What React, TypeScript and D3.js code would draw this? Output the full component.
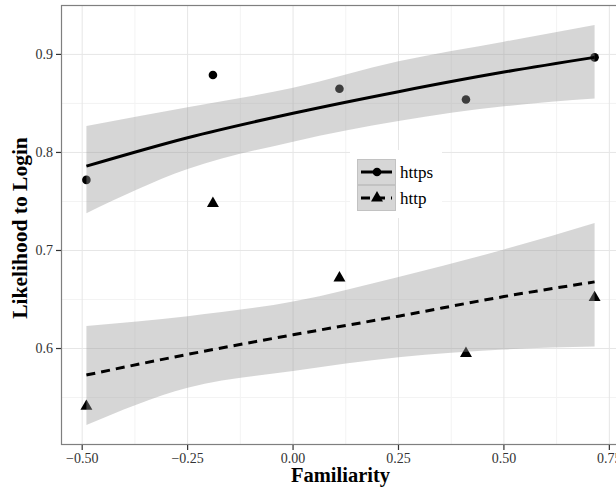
import React, { useRef, useEffect } from 'react';
import * as d3 from 'd3';

// observed points
const familiarity = [-0.49, -0.19, 0.11, 0.41, 0.715];
const httpsObs = [0.772, 0.879, 0.865, 0.854, 0.897];
const httpObs = [0.541, 0.748, 0.672, 0.595, 0.652];

// fitted curve + confidence band
const fitX = [-0.49, -0.25, 0, 0.25, 0.5, 0.715];
const httpsFit = [0.786, 0.815, 0.840, 0.862, 0.882, 0.897];
const httpsLo = [0.738, 0.783, 0.811, 0.832, 0.847, 0.855];
const httpsHi = [0.827, 0.846, 0.866, 0.893, 0.913, 0.930];
const httpFit = [0.573, 0.594, 0.614, 0.633, 0.653, 0.668];
const httpLo = [0.522, 0.560, 0.577, 0.591, 0.599, 0.602];
const httpHi = [0.623, 0.633, 0.648, 0.673, 0.701, 0.728];

const xTicks = [-0.5, -0.25, 0, 0.25, 0.5, 0.75];
const xTickLabels = ['−0.50', '−0.25', '0.00', '0.25', '0.50', '0.75'];
const yTicks = [0.6, 0.7, 0.8, 0.9];
const seriesNames = ['https', 'http'];

const width = 616;
const height = 491;
const FONT = '"Liberation Serif", "Times New Roman", serif';

export default function App() {
  const svgRef = useRef(null);

  useEffect(() => {
    const svg = d3.select(svgRef.current);
    svg.selectAll('*').remove();

    const margin = { top: 5, right: -4, bottom: 46, left: 61 };
    const x0 = margin.left, x1 = width - margin.right;
    const y0 = margin.top, y1 = height - margin.bottom;

    // ggplot-ish 5% expansion
    const xExt = d3.extent(familiarity) as [number, number];
    const xPad = (xExt[1] - xExt[0]) * 0.05;
    const x = d3.scaleLinear([xExt[0] - xPad, xExt[1] + xPad], [x0, x1]);
    const yMin = d3.min(httpLo) as number, yMax = d3.max(httpsHi) as number;
    const yPad = (yMax - yMin) * 0.05;
    const y = d3.scaleLinear([yMin - yPad, yMax + yPad], [y1, y0]);

    svg.append('defs').append('clipPath').attr('id', 'panel')
      .append('rect').attr('x', x0).attr('y', y0).attr('width', x1 - x0).attr('height', y1 - y0);

    svg.append('rect').attr('width', width).attr('height', height).attr('fill', 'white');

    const panel = svg.append('g').attr('clip-path', 'url(#panel)');

    // grid
    const xMinor = d3.pairs(xTicks, (a, b) => (a + b) / 2);
    const yMinor = [yTicks[0] - 0.05, ...d3.pairs(yTicks, (a, b) => (a + b) / 2), yTicks[yTicks.length - 1] + 0.05];
    panel.selectAll('.xminor').data(xMinor).join('line')
      .attr('x1', d => x(d)).attr('x2', d => x(d)).attr('y1', y0).attr('y2', y1)
      .attr('stroke', '#f3f3f3').attr('stroke-width', 1);
    panel.selectAll('.yminor').data(yMinor).join('line')
      .attr('y1', d => y(d)).attr('y2', d => y(d)).attr('x1', x0).attr('x2', x1)
      .attr('stroke', '#f3f3f3').attr('stroke-width', 1);
    panel.append('g').selectAll('line').data(xTicks).join('line')
      .attr('x1', d => x(d)).attr('x2', d => x(d)).attr('y1', y0).attr('y2', y1)
      .attr('stroke', '#e6e6e6').attr('stroke-width', 1);
    panel.append('g').selectAll('line').data(yTicks).join('line')
      .attr('y1', d => y(d)).attr('y2', d => y(d)).attr('x1', x0).attr('x2', x1)
      .attr('stroke', '#e6e6e6').attr('stroke-width', 1);

    // points first, ribbon goes over them
    const tri = d3.symbol(d3.symbolTriangle, 62);
    panel.append('g').selectAll('circle').data(familiarity).join('circle')
      .attr('cx', d => x(d)).attr('cy', (d, i) => y(httpsObs[i])).attr('r', 4.3).attr('fill', '#000');
    panel.append('g').selectAll('path').data(familiarity).join('path')
      .attr('d', tri).attr('transform', (d, i) => `translate(${x(d)},${y(httpObs[i])})`).attr('fill', '#000');

    const series = [
      { fit: httpsFit, lo: httpsLo, hi: httpsHi, dash: null },
      { fit: httpFit, lo: httpLo, hi: httpHi, dash: '9,6' },
    ];
    const area = d3.area<number>()
      .x(d => x(d))
      .curve(d3.curveMonotoneX);
    const line = d3.line<number>().x(d => x(d)).curve(d3.curveMonotoneX);

    series.forEach(s => {
      panel.append('path')
        .attr('d', area.y0((d, i) => y(s.lo[i])).y1((d, i) => y(s.hi[i]))(fitX))
        .attr('fill', '#999999').attr('fill-opacity', 0.4);
      panel.append('path')
        .attr('d', line.y((d, i) => y(s.fit[i]))(fitX))
        .attr('fill', 'none').attr('stroke', '#000').attr('stroke-width', 3)
        .attr('stroke-dasharray', s.dash);
    });

    // legend
    const lg = svg.append('g');
    lg.append('rect').attr('x', 350).attr('y', 150).attr('width', 92).attr('height', 68).attr('fill', 'white');
    seriesNames.forEach((name, i) => {
      const ky = 159 + i * 26;
      lg.append('rect').attr('x', 357.5).attr('y', ky + 0.5).attr('width', 38).attr('height', 25)
        .attr('fill', '#d6d6d6').attr('stroke', '#c2c2c2');
      lg.append('line').attr('x1', 361).attr('x2', 392).attr('y1', ky + 13).attr('y2', ky + 13)
        .attr('stroke', '#000').attr('stroke-width', 3)
        .attr('stroke-dasharray', i === 1 ? '9,6' : null);
      if (i === 0) {
        lg.append('circle').attr('cx', 377).attr('cy', ky + 13).attr('r', 4.3).attr('fill', '#000');
      } else {
        lg.append('path').attr('d', tri).attr('transform', `translate(377,${ky + 13})`).attr('fill', '#000');
      }
      lg.append('text').attr('x', 400).attr('y', ky + 19).text(name)
        .style('font-family', FONT).style('font-size', '17px').attr('fill', '#000');
    });

    // border
    svg.append('rect').attr('x', x0 + 0.5).attr('y', y0 + 0.5).attr('width', x1 - x0 - 1).attr('height', y1 - y0 - 1)
      .attr('fill', 'none').attr('stroke', '#7f7f7f').attr('stroke-width', 1.2);

    // axes
    const ax = svg.append('g');
    xTicks.forEach((t, i) => {
      ax.append('line').attr('x1', x(t)).attr('x2', x(t)).attr('y1', y1).attr('y2', y1 + 5)
        .attr('stroke', '#333').attr('stroke-width', 1.2);
      ax.append('text').attr('x', x(t)).attr('y', y1 + 18).attr('text-anchor', 'middle')
        .style('font-family', FONT).style('font-size', '14px').attr('fill', '#333').text(xTickLabels[i]);
    });
    yTicks.forEach(t => {
      ax.append('line').attr('x1', x0 - 5).attr('x2', x0).attr('y1', y(t)).attr('y2', y(t))
        .attr('stroke', '#333').attr('stroke-width', 1.2);
      ax.append('text').attr('x', x0 - 8).attr('y', y(t)).attr('dy', '0.35em').attr('text-anchor', 'end')
        .style('font-family', FONT).style('font-size', '14px').attr('fill', '#333').text(t.toFixed(1));
    });

    svg.append('text').attr('x', (x0 + x1) / 2).attr('y', 482).attr('text-anchor', 'middle')
      .style('font-family', FONT).style('font-size', '20.5px').style('font-weight', 'bold').text('Familiarity');
    svg.append('text').attr('transform', `translate(27,${(y0 + y1) / 2 + 3}) rotate(-90)`).attr('text-anchor', 'middle')
      .style('font-family', FONT).style('font-size', '21.5px').style('font-weight', 'bold').text('Likelihood to Login');
  }, []);

  return (
    <svg ref={svgRef} width={width} height={height}
      style={{ position: 'absolute', left: 0, top: 0, display: 'block' }} />
  );
}
